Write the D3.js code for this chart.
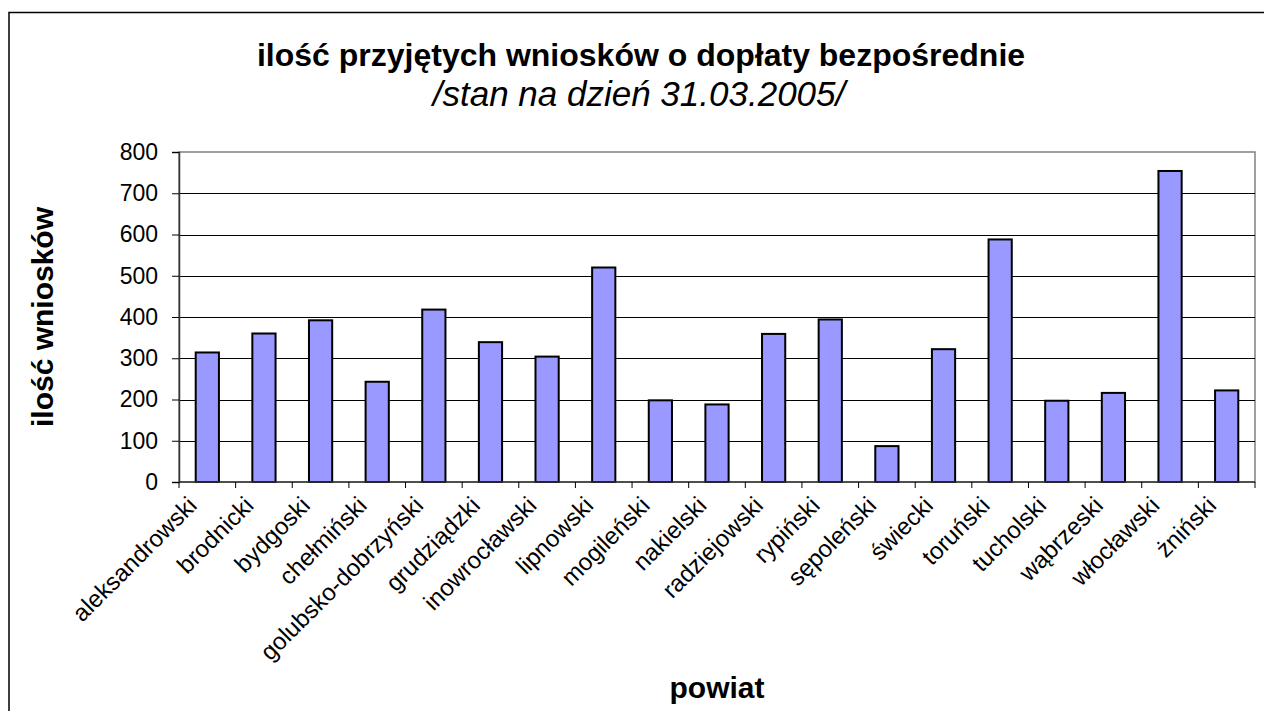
<!DOCTYPE html>
<html>
<head>
<meta charset="utf-8">
<script src="https://cdn.jsdelivr.net/npm/d3@7"></script>
<style>
  body { margin: 0; background: #fff; }
  svg { display: block; font-family: "Liberation Sans", Arial, sans-serif; }
</style>
</head>
<body>
<div id="chart"></div>
<script>
const powiaty = [
  'aleksandrowski', 'brodnicki', 'bydgoski', 'chełmiński', 'golubsko-dobrzyński',
  'grudziądzki', 'inowrocławski', 'lipnowski', 'mogileński', 'nakielski',
  'radziejowski', 'rypiński', 'sępoleński', 'świecki', 'toruński',
  'tucholski', 'wąbrzeski', 'włocławski', 'żniński'
];
const wnioski = [314, 360, 392, 243, 418, 339, 304, 520, 198, 188, 359, 394, 87, 322, 588, 197, 216, 754, 222];
const yTicks = [0, 100, 200, 300, 400, 500, 600, 700, 800];

const width = 1264;
const height = 711;
const plot = { left: 179, right: 1255, top: 152, bottom: 482 };

const svg = d3.select('#chart').append('svg')
  .attr('width', width)
  .attr('height', height);

// outer frame (runs off the right and bottom edge like the original)
svg.append('rect')
  .attr('x', 9).attr('y', 12.5)
  .attr('width', width + 20).attr('height', height + 20)
  .attr('fill', '#fff')
  .attr('stroke', '#000').attr('stroke-width', 1.5);

const x = d3.scaleBand()
  .domain(powiaty)
  .range([plot.left, plot.right])
  .paddingInner(0.59)
  .paddingOuter(0.295);

const y = d3.scaleLinear().domain([0, 800]).range([plot.bottom, plot.top]);

// plot area border
svg.append('rect')
  .attr('x', plot.left).attr('y', plot.top)
  .attr('width', plot.right - plot.left).attr('height', plot.bottom - plot.top)
  .attr('fill', 'none').attr('stroke', '#808080').attr('stroke-width', 1.5);

// gridlines
svg.append('g')
  .selectAll('line')
  .data(yTicks.filter(d => d > 0 && d < 800))
  .join('line')
  .attr('x1', plot.left).attr('x2', plot.right)
  .attr('y1', d => Math.round(y(d)) + 0.5).attr('y2', d => Math.round(y(d)) + 0.5)
  .attr('stroke', '#000').attr('stroke-width', 1);

// bars
svg.append('g')
  .selectAll('rect')
  .data(powiaty)
  .join('rect')
  .attr('x', d => x(d))
  .attr('y', (d, i) => y(wnioski[i]))
  .attr('width', x.bandwidth())
  .attr('height', (d, i) => y(0) - y(wnioski[i]))
  .attr('fill', '#9999ff')
  .attr('stroke', '#000').attr('stroke-width', 2);

// y axis
const yAxis = svg.append('g')
  .attr('transform', `translate(${plot.left},0)`)
  .call(d3.axisLeft(y).tickValues(yTicks).tickSize(7).tickPadding(14));
yAxis.select('.domain').attr('stroke', '#333').attr('stroke-width', 1.5);
yAxis.selectAll('.tick line').attr('stroke', '#000');
yAxis.selectAll('text').attr('font-size', 23).attr('fill', '#000')
  .attr('font-family', '"Liberation Sans", Arial, sans-serif');

// x axis: ticks between categories
const bounds = d3.range(powiaty.length + 1).map(i => plot.left + i * x.step());
svg.append('line')
  .attr('x1', plot.left).attr('x2', plot.right)
  .attr('y1', plot.bottom).attr('y2', plot.bottom)
  .attr('stroke', '#333').attr('stroke-width', 1.5);
svg.append('g')
  .selectAll('line')
  .data(bounds)
  .join('line')
  .attr('x1', d => d).attr('x2', d => d)
  .attr('y1', plot.bottom).attr('y2', plot.bottom + 6)
  .attr('stroke', '#000');

svg.append('g')
  .selectAll('text')
  .data(powiaty)
  .join('text')
  .attr('transform', d => `translate(${x(d) + x.bandwidth() / 2 - 9},${plot.bottom + 25}) rotate(-45)`)
  .attr('text-anchor', 'end')
  .attr('font-size', 24)
  .text(d => d);

// titles
svg.append('text')
  .attr('x', 641).attr('y', 66)
  .attr('text-anchor', 'middle')
  .attr('font-size', 32).attr('font-weight', 'bold')
  .text('ilość przyjętych wniosków o dopłaty bezpośrednie');

svg.append('text')
  .attr('x', 639).attr('y', 106)
  .attr('text-anchor', 'middle')
  .attr('font-size', 35).attr('font-style', 'italic')
  .text('/stan na dzień 31.03.2005/');

svg.append('text')
  .attr('transform', `translate(53,${(plot.top + plot.bottom) / 2}) rotate(-90)`)
  .attr('text-anchor', 'middle')
  .attr('font-size', 30).attr('font-weight', 'bold')
  .text('ilość wniosków');

svg.append('text')
  .attr('x', (plot.left + plot.right) / 2).attr('y', 698)
  .attr('text-anchor', 'middle')
  .attr('font-size', 30).attr('font-weight', 'bold')
  .text('powiat');
</script>
</body>
</html>
